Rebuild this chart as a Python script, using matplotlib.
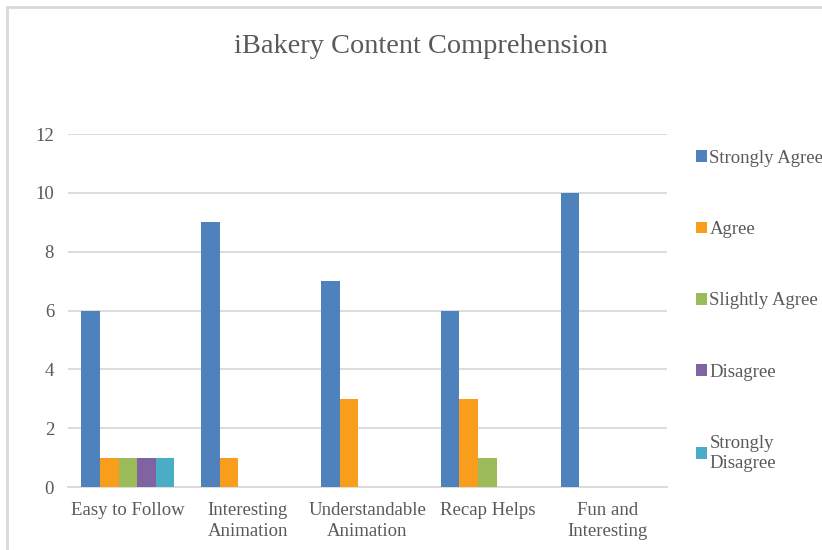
import numpy as np
import matplotlib
matplotlib.use("Agg")
import matplotlib.pyplot as plt
from matplotlib.patches import Rectangle

# ----------------------------------------------------------------------
# Data
# ----------------------------------------------------------------------
categories = ["Easy to Follow", "Interesting\nAnimation", "Understandable\nAnimation",
              "Recap Helps", "Fun and\nInteresting"]
series_names = ["Strongly Agree", "Agree", "Slightly Agree", "Disagree", "Strongly\nDisagree"]
strongly_agree = [6, 9, 7, 6, 10]
agree = [1, 1, 3, 3, 0]
slightly_agree = [1, 0, 0, 1, 0]
disagree = [1, 0, 0, 0, 0]
strongly_disagree = [1, 0, 0, 0, 0]
y_ticks = [0, 2, 4, 6, 8, 10, 12]

colors = ["#4F81BD", "#F99D1C", "#9BBB59", "#8064A2", "#4BACC6"]
TEXT = "#595959"
GRID = "#D9D9D9"

plt.rcParams["font.family"] = ["Liberation Serif", "DejaVu Serif"]

fig = plt.figure(figsize=(8.22, 5.5), dpi=100)
ax = fig.add_axes([0.0827, 0.1145, 0.7287, 0.6418])

values = [strongly_agree, agree, slightly_agree, disagree, strongly_disagree]
x = np.arange(len(categories))
bar_w = 0.155
offsets = (np.arange(len(values)) - 2) * bar_w
for vals, name, col, off in zip(values, series_names, colors, offsets):
    ax.bar(x + off, vals, width=bar_w, color=col, label=name, zorder=3)

ax.set_xlim(-0.5, len(categories) - 0.5)
ax.set_ylim(0, 12)
ax.set_yticks(y_ticks)
ax.set_xticks(x)
ax.set_xticklabels(categories, linespacing=1.25)
ax.tick_params(axis="both", length=0, labelsize=13.5, labelcolor=TEXT)
ax.tick_params(axis="x", pad=11)
ax.tick_params(axis="y", pad=10)
ax.yaxis.grid(True, color=GRID, linewidth=1.3, zorder=0)
for side in ["top", "right", "left"]:
    ax.spines[side].set_visible(False)
ax.spines["bottom"].set_color(GRID)
ax.spines["bottom"].set_linewidth(1.3)

fig.text(0.5116, 0.916, "iBakery Content Comprehension", ha="center", va="center",
         fontsize=20.4, color=TEXT)

leg = ax.legend(loc="upper left", bbox_to_anchor=(0.838, 0.741),
                bbox_transform=fig.transFigure, frameon=False,
                fontsize=13.5, handlelength=0.58, handleheight=0.58,
                handletextpad=0.12, labelspacing=2.89, borderaxespad=0)
for t in leg.get_texts():
    t.set_color(TEXT)
    t.set_linespacing(1.25)

# outer chart frame (cropped at right and bottom)
fig.patches.append(Rectangle((7 / 822, -0.1), 1.2, 1.1 - 7 / 550,
                             transform=fig.transFigure, fill=False,
                             edgecolor=GRID, linewidth=2))

fig.savefig("out.png", dpi=100)
